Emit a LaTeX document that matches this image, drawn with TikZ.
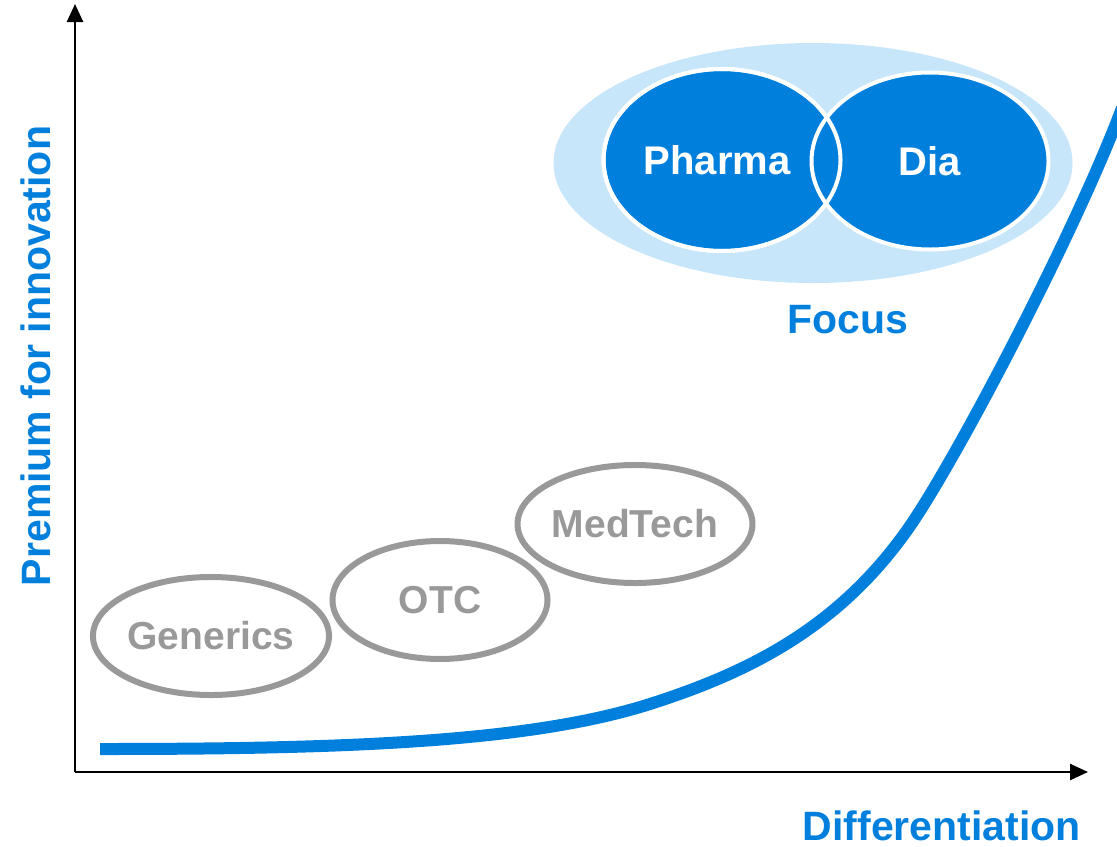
\documentclass[tikz,border=0pt]{standalone}
\usepackage{fontspec}
\setmainfont{Liberation Sans}
\usetikzlibrary{shapes.geometric, arrows.meta, positioning}
\definecolor{roche}{RGB}{0, 128, 220}
\definecolor{rochelight}{RGB}{200, 230, 250}
\definecolor{oval}{RGB}{153, 153, 153}

\begin{document}
\begin{tikzpicture}[x=0.5pt, y=-0.5pt,
    axis/.style={line width=1.3pt, -{Triangle[width=8pt, length=9pt]}},
    greyoval/.style={ellipse, draw=oval, line width=3pt, minimum width=107.5pt,
                minimum height=59pt, inner sep=0pt, text=oval, font=\fontsize{19.5}{22}\selectfont\bfseries},
    blob/.style={ellipse, fill=roche, draw=white, line width=2pt, inner sep=0pt,
                text=white, font=\fontsize{20}{24}\selectfont\bfseries},
    bluetext/.style={text=roche, inner sep=0pt, font=\fontsize{20.5}{25}\selectfont\bfseries}]

    \useasboundingbox (0,0) rectangle (1117,846);

    % Axes
    \coordinate (origin) at (75,772);
    \coordinate (ytip) at (75,4);
    \coordinate (xtip) at (1088,772);
    \draw[axis] (origin) -- (ytip);
    \draw[axis] (origin) -- (xtip);

    % Growth curve
    \coordinate (low) at (100,749);
    \coordinate (knee) at (650,704);
    \coordinate (bend) at (910,526);
    \coordinate (high) at (1122,108);
    \draw[roche, line width=6pt] (low) .. controls (350,749) and (530,742) .. (knee)
        .. controls (750,672) and (840,627) .. (bend)
        .. controls (960,453) and (1077,228) .. (high);

    % Focus area
    \node[ellipse, fill=rochelight, minimum width=259.5pt, minimum height=120pt] (focusarea) at (813,163) {};
    \node[blob, minimum width=118.5pt, minimum height=91pt] (pharma) at (722,160) {\kern-5pt Pharma};
    \node[blob, minimum width=118.5pt, minimum height=88.5pt] (dia) at (930,161) {Dia};
    \draw[white, line width=2pt] (pharma.center) ellipse [x radius=59.25pt, y radius=45.5pt];
    \node[bluetext] (focus) at (848,320) {Focus};

    % Other businesses
    \node[greyoval] (generics) at (211,636) {Generics};
    \node[greyoval] (otc) at (440,600) {OTC};
    \node[greyoval] (medtech) at (635,524) {MedTech};

    % Axis labels
    \node[bluetext, anchor=base east] (xlabel) at (1081,840) {Differentiation};
    \node[bluetext, rotate=90, anchor=base] (ylabel) at (50,356) {Premium for innovation};
\end{tikzpicture}
\end{document}
